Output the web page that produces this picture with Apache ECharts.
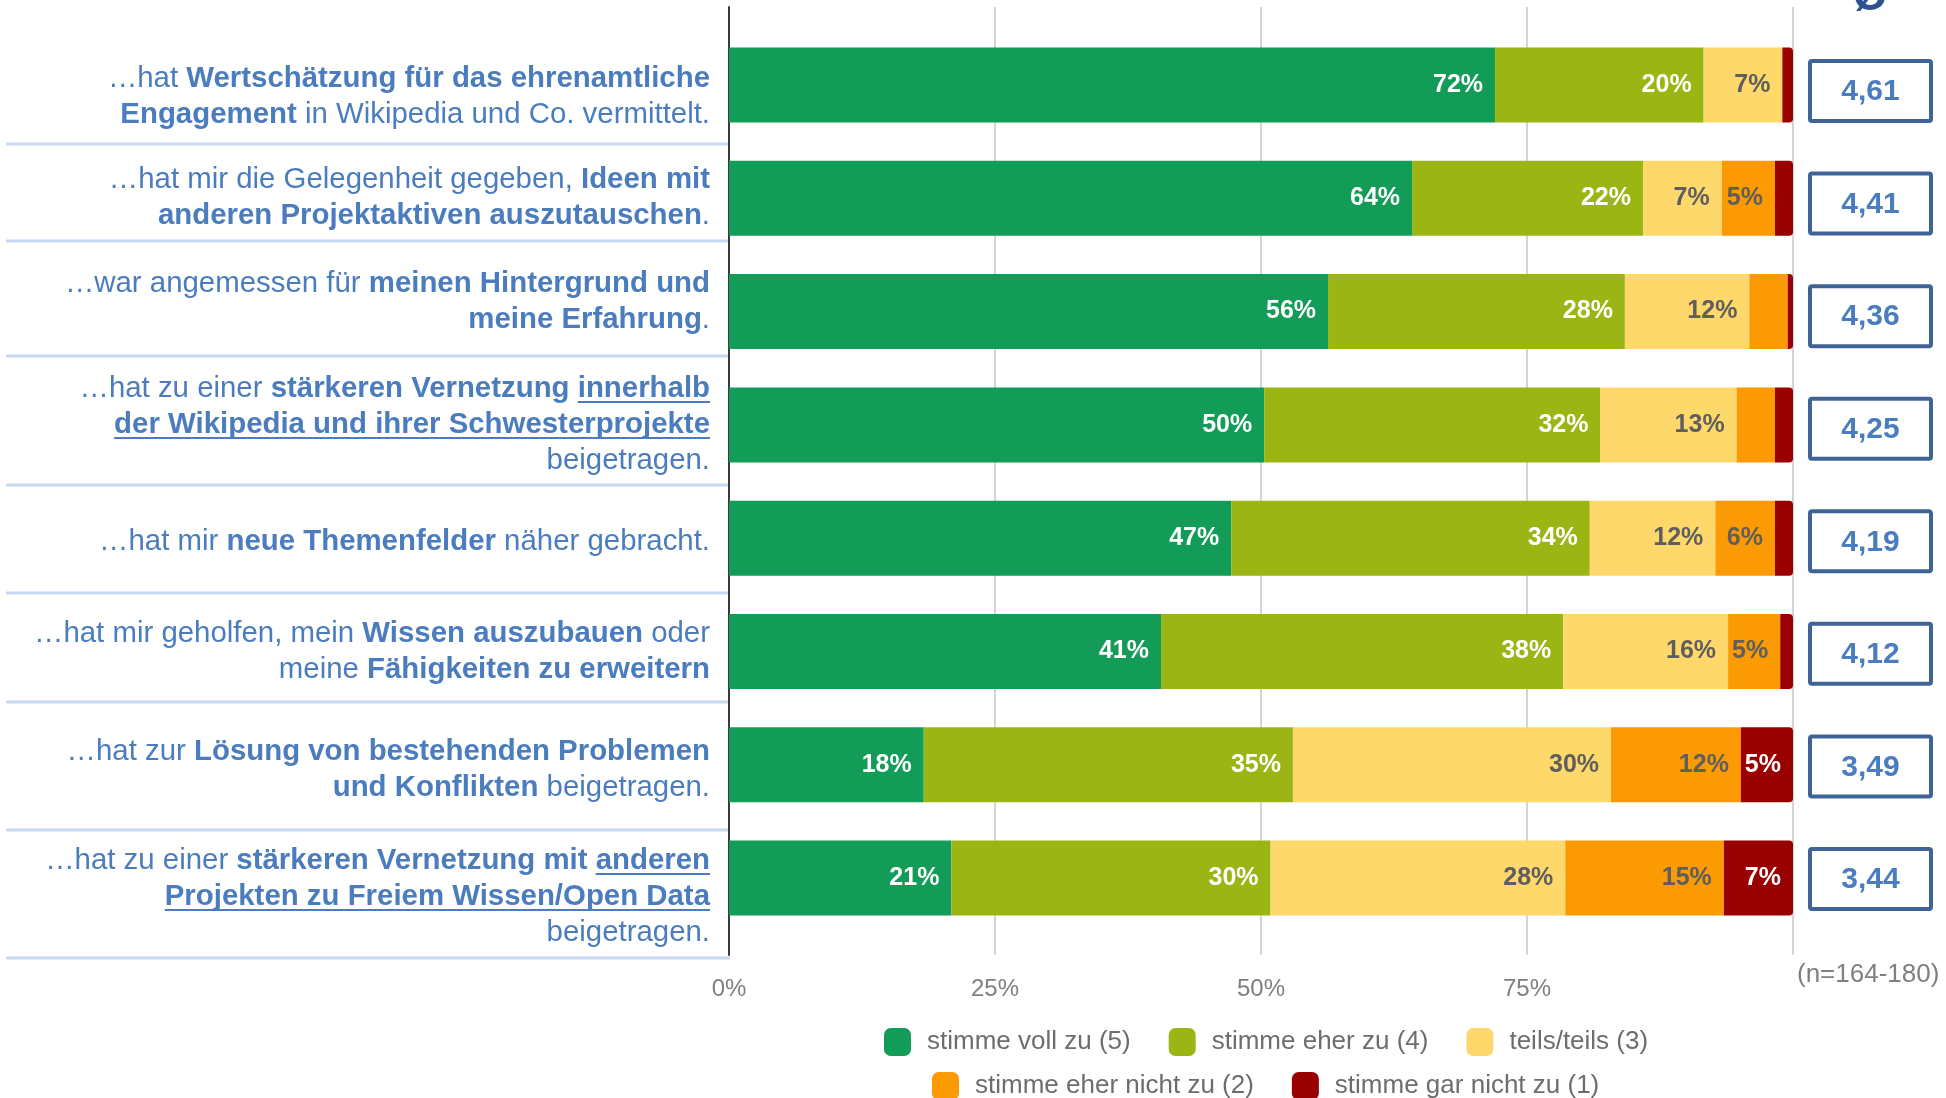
<!DOCTYPE html>
<html><head><meta charset="utf-8">
<script src="https://cdn.jsdelivr.net/npm/echarts@6/dist/echarts.min.js"></script>
<style>html,body{margin:0;padding:0;background:#fff}#c{width:1946px;height:1098px}</style>
</head><body><div id="c"></div>
<script>
const FONT = "'Liberation Sans', Arial, sans-serif";

// Category labels (rich text: {b|...} = bold)
const categories = [
  '…hat {b|Wertschätzung für das ehrenamtliche}\n{b|Engagement} in Wikipedia und Co. vermittelt.',
  '…hat mir die Gelegenheit gegeben, {b|Ideen mit}\n{b|anderen Projektaktiven auszutauschen}.',
  '…war angemessen für {b|meinen Hintergrund und}\n{b|meine Erfahrung}.',
  '…hat zu einer {b|stärkeren Vernetzung} {b|innerhalb}\n{b|der Wikipedia und ihrer Schwesterprojekte}\nbeigetragen.',
  '…hat mir {b|neue Themenfelder} näher gebracht.',
  '…hat mir geholfen, mein {b|Wissen auszubauen} oder\nmeine {b|Fähigkeiten zu erweitern}',
  '…hat zur {b|Lösung von bestehenden Problemen}\n{b|und Konflikten} beigetragen.',
  '…hat zu einer {b|stärkeren Vernetzung mit} {b|anderen}\n{b|Projekten zu Freiem Wissen/Open Data}\nbeigetragen.'
];
const lineCounts = [2, 2, 2, 3, 1, 2, 2, 3];
// underlined bold fragments: [row, line, text] (fragment sits at right end of the line)
const underlines = [
  [3, 0, 'innerhalb'],
  [3, 1, 'der Wikipedia und ihrer Schwesterprojekte'],
  [7, 0, 'anderen'],
  [7, 1, 'Projekten zu Freiem Wissen/Open Data']
];

const seriesNames = ['stimme voll zu (5)', 'stimme eher zu (4)', 'teils/teils (3)', 'stimme eher nicht zu (2)', 'stimme gar nicht zu (1)'];
const voll      = [72.0, 64.2, 56.3, 50.3, 47.2, 40.6, 18.3, 20.9];
const eher      = [19.6, 21.7, 27.9, 31.6, 33.7, 37.8, 34.7, 30.0];
const teils     = [7.4, 7.4, 11.7, 12.8, 11.8, 15.5, 29.9, 27.7];
const eherNicht = [0.0, 5.0, 3.6, 3.6, 5.6, 4.9, 12.2, 14.9];
const garNicht  = [1.0, 1.7, 0.5, 1.7, 1.7, 1.2, 4.9, 6.5];
const means = ['4,61', '4,41', '4,36', '4,25', '4,19', '4,12', '3,49', '3,44'];
const xTickLabels = ['0%', '25%', '50%', '75%', ''];
const sampleNote = '(n=164-180)';

// layout: vertical shift of each label block relative to its bar (px, + = down)
const labelShift = [12, 0, -10, 0, 4, 0, 5, 19];

const colors = ['#139c57', '#9bb515', '#fed86b', '#fb9a03', '#990000'];
const labelColors = ['#ffffff', '#ffffff', '#5e5e5e', '#5e5e5e', '#ffffff'];
const values = [voll, eher, teils, eherNicht, garNicht];

const LABEL_SIZE = 29.4, LINE_H = 36, LABEL_COLOR = '#4a7cbe';

const rich = {b: {fontFamily: FONT, fontSize: LABEL_SIZE, fontWeight: 'bold', color: LABEL_COLOR, lineHeight: LINE_H}};
labelShift.forEach(s => {
  const h = Math.abs(s) * 2;
  if (h) rich['g' + h] = {fontSize: 1, lineHeight: h, height: h};
});
function labelText(value, idx) {
  const s = labelShift[idx], h = Math.abs(s) * 2;
  if (s > 0) return '{g' + h + '| }\n' + value;
  if (s < 0) return value + '\n{g' + h + '| }';
  return value;
}

const chart = echarts.init(document.getElementById('c'), null, {renderer: 'canvas'});

const barSeries = values.map((arr, k) => ({
  name: seriesNames[k],
  type: 'bar',
  stack: 'total',
  xAxisIndex: 0, yAxisIndex: 0,
  barWidth: 75,
  data: arr,
  itemStyle: {color: colors[k], borderRadius: k === 4 ? [0, 4, 4, 0] : 0},
  label: {
    show: true,
    position: 'insideRight',
    distance: 12,
    fontFamily: FONT, fontSize: 25, fontWeight: 'bold',
    color: labelColors[k],
    formatter: p => p.value >= 4.5 ? Math.round(p.value) + '%' : ''
  },
  emphasis: {disabled: true},
  z: 3
}));

const legendText = {rich: {t: {fontFamily: FONT, fontSize: 26, color: '#6d6d6d', padding: [0, 0, 0, 11]}}};

const option = {
  animation: false,
  backgroundColor: '#ffffff',
  textStyle: {fontFamily: FONT},
  grid: [
    {left: 729, right: 153, top: 28.35, height: 906.4, containLabel: false},
    {left: 729, right: 153, top: 7, bottom: 143, containLabel: false},
    {left: 1808, width: 125, top: 34.7, height: 900.6, containLabel: false}
  ],
  xAxis: [
    {gridIndex: 0, type: 'value', min: 0, max: 100, show: false},
    {gridIndex: 1, type: 'value', min: 0, max: 100, interval: 25,
      axisLine: {show: false}, axisTick: {show: false},
      splitLine: {show: true, lineStyle: {color: '#d4d4d4', width: 2}},
      axisLabel: {margin: 22, fontFamily: FONT, fontSize: 24, color: '#7f7f7f',
        formatter: v => xTickLabels[Math.round(v / 25)]}},
    {gridIndex: 2, type: 'value', min: 0, max: 1, show: false}
  ],
  yAxis: [
    {gridIndex: 0, type: 'category', inverse: true, data: categories,
      axisLine: {show: false}, axisTick: {show: false}, splitLine: {show: false},
      axisLabel: {
        interval: 0, hideOverlap: false,
        margin: 19, align: 'right',
        fontFamily: FONT, fontSize: LABEL_SIZE, color: LABEL_COLOR, lineHeight: LINE_H,
        formatter: labelText,
        rich: rich
      }},
    {gridIndex: 1, type: 'value', min: 0, max: 1,
      axisLine: {show: true, onZero: false, lineStyle: {color: '#3a3a3a', width: 2}},
      axisTick: {show: false}, axisLabel: {show: false}, splitLine: {show: false}},
    {gridIndex: 2, type: 'category', inverse: true, data: means, show: false}
  ],
  legend: [
    {data: seriesNames.slice(0, 3), left: 879, top: 1023, orient: 'horizontal',
      itemWidth: 27, itemHeight: 28, itemGap: 38, icon: 'roundRect', selectedMode: false,
      formatter: n => '{t|' + n + '}', textStyle: legendText},
    {data: seriesNames.slice(3), left: 927, top: 1067, orient: 'horizontal',
      itemWidth: 27, itemHeight: 28, itemGap: 38, icon: 'roundRect', selectedMode: false,
      formatter: n => '{t|' + n + '}', textStyle: legendText}
  ],
  series: barSeries.concat([{
    type: 'custom',
    name: 'mean',
    coordinateSystem: 'cartesian2d',
    xAxisIndex: 2, yAxisIndex: 2,
    data: means.map((m, i) => [0, i]),
    renderItem: (params, api) => {
      const idx = api.value(1);
      const p = api.coord([0, idx]);
      const size = api.size([1, 1]);
      const w = size[0], h = 60;
      return {type: 'group', children: [
        {type: 'rect', shape: {x: p[0] + 2, y: p[1] - h / 2, width: w - 4, height: h, r: 2},
          style: {fill: '#ffffff', stroke: '#3f6396', lineWidth: 4}},
        {type: 'text', style: {x: p[0] + w / 2, y: p[1] + 1, text: means[idx], align: 'center', verticalAlign: 'middle',
          fill: '#4a7cc0', fontFamily: FONT, fontSize: 30, fontWeight: 'bold'}}
      ]};
    },
    z: 5
  }])
};

chart.setOption(option);

// Decorations: separators between category labels, underlines, notes
const sepY = [144, 241, 356, 485, 593, 702, 830, 958];
const labelRight = 729 - 19;
const graphics = sepY.map(y => ({
  type: 'line', shape: {x1: 6, y1: y, x2: 730, y2: y},
  style: {stroke: '#c6d9f0', lineWidth: 3}, silent: true
}));

const ctx = document.createElement('canvas').getContext('2d');
ctx.font = 'bold ' + LABEL_SIZE + 'px ' + FONT;
underlines.forEach(([row, line, txt]) => {
  const cy = chart.convertToPixel({yAxisIndex: 0}, row) + labelShift[row];
  const n = lineCounts[row];
  const lineCenter = cy + (line - (n - 1) / 2) * LINE_H;
  const w = ctx.measureText(txt).width;
  const y = lineCenter + 13;
  graphics.push({type: 'line', shape: {x1: labelRight - w, y1: y, x2: labelRight, y2: y},
    style: {stroke: LABEL_COLOR, lineWidth: 2}, silent: true});
});

graphics.push({type: 'text', left: 1797, top: 962,
  style: {text: sampleNote, fontFamily: FONT, fontSize: 26, fill: '#7f7f7f'}});
graphics.push({type: 'text', x: 1870, y: 20,
  style: {text: 'Ø', fontFamily: FONT, fontSize: 44, fontWeight: 'bold', fill: '#2d5191', align: 'center', verticalAlign: 'bottom'}});

chart.setOption({graphic: graphics});
</script>
</body></html>
